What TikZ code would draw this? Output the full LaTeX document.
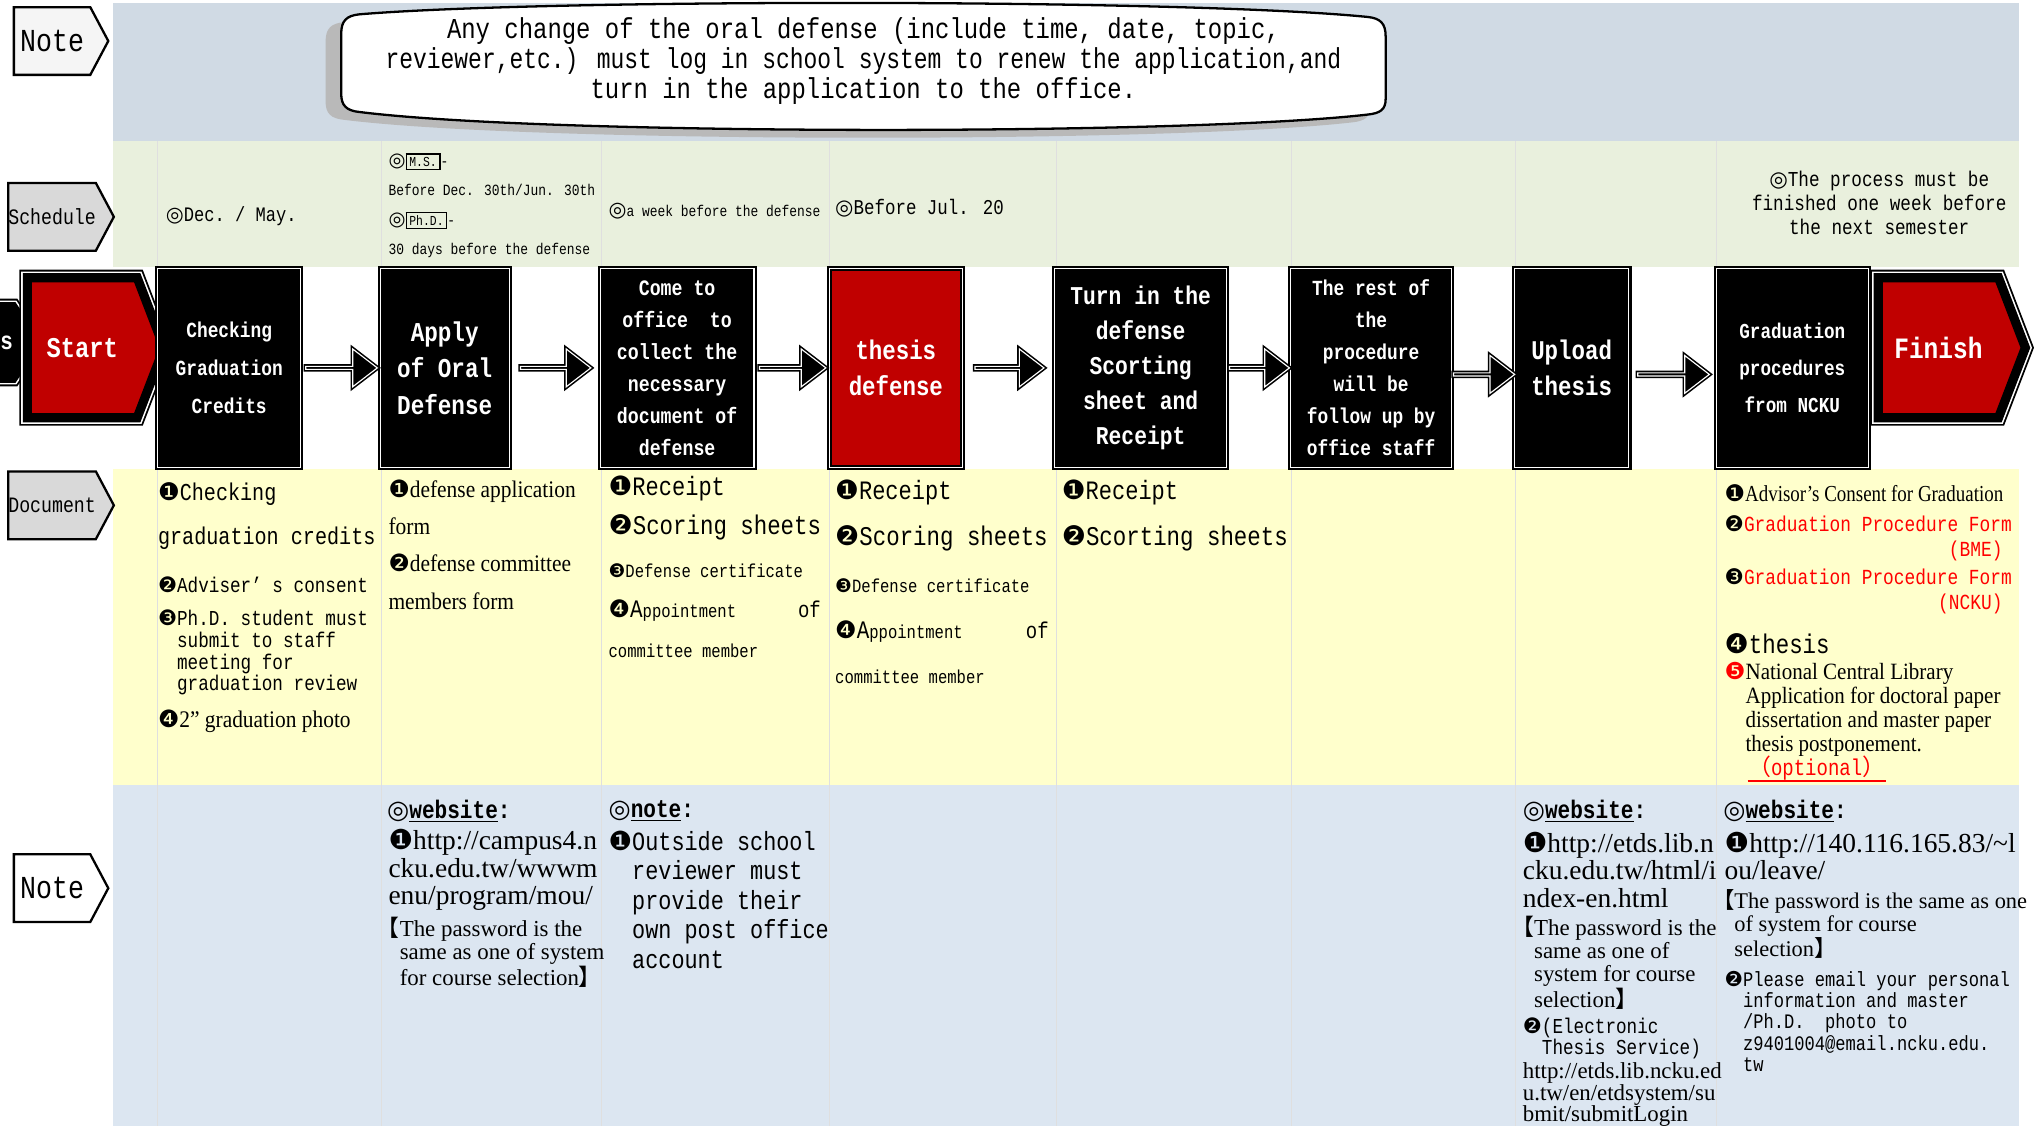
\documentclass[tikz,border=0pt]{standalone}
\usepackage{fontspec}
\usepackage{graphicx}
\usetikzlibrary{shapes,arrows,positioning,calc}
\setmainfont{Liberation Serif}
\newfontfamily\mono[FakeStretch=0.83]{Liberation Mono}
\newfontfamily\tnr{Liberation Serif}
\newfontfamily\tnrc[FakeStretch=0.9]{Liberation Serif}
\newfontfamily\dv{DejaVu Sans}
\newfontfamily\cjk{Noto Sans CJK SC}
\definecolor{notebg}{RGB}{208,218,228}
\definecolor{notebgb}{RGB}{220,230,241}
\definecolor{schedbg}{RGB}{233,240,221}
\definecolor{docbg}{RGB}{255,255,204}
\definecolor{boxred}{RGB}{192,0,0}
\definecolor{formred}{RGB}{255,0,0}
\newcommand{\fs}[2]{\fontsize{#1}{#2}\selectfont}
\newcommand{\cnum}[1]{{\dv #1}}
\newcommand{\hangitem}[2]{#1\begin{tabular}[t]{@{}l@{}}#2\end{tabular}}
\newcommand{\lbr}{\makebox[0.55em][r]{\cjk 【}}
\newcommand{\rbr}{{\cjk 】}}
\setlength{\fboxsep}{1pt}
\setlength{\fboxrule}{0.7pt}
\tikzset{
    lane/.style={signal, signal to=east, signal pointer angle=124, draw, line width=1pt, minimum width=1.45cm, minimum height=1.04cm, inner sep=0pt, font=\mono\fs{9.6}{11}},
    stepbox/.style={rectangle, draw=black, double=white, double distance=0.5pt, line width=0.9pt, outer sep=0pt, fill=black, text=white, minimum height=3.05cm, align=center, inner sep=0pt, font=\mono\bfseries},
    endbox/.style={signal, signal to=east, signal pointer angle=138, preaction={draw=black, line width=7pt}, preaction={draw=white, line width=5.4pt}, draw=black, line width=4pt, fill=boxred, text=white, minimum height=2.15cm, inner sep=0pt, font=\mono\bfseries\fs{12.5}{14}},
    fat/.style={single arrow, fill=black, draw=black, double=white, double distance=0.5pt, line width=0.7pt, minimum width=0.58cm, single arrow head extend=0.14cm, single arrow tip angle=75, inner sep=0pt},
    txt/.style={inner sep=0pt, anchor=west, align=left},
    divider/.style={gray!25, line width=0.5pt}
}

\begin{document}
\begin{tikzpicture}[x=0.02cm, y=-0.02cm, node distance=1cm]
    \useasboundingbox (0,0) rectangle (1568,865);
    \clip (0,0) rectangle (1568,865);

    % lanes
    \fill[notebg] (87,2) rectangle (1550,108);
    \fill[schedbg] (87,108) rectangle (1550,205);
    \fill[docbg] (87,360) rectangle (1550,603);
    \fill[notebgb] (87,603) rectangle (1550,865);
    \foreach \x in {121,293,462,637,811,992,1164,1318} {
        \draw[divider] (\x,108) -- (\x,205);
        \draw[divider] (\x,360) -- (\x,865);
    }

    \node[lane, fill=gray!8] (note1) at (40,31.5) {\fs{14}{16}Note};
    \node[lane, fill=gray!30] (sched) at (40,166.5) {Schedule};
    \node[lane, fill=gray!30] (doc) at (40,388) {Document};
    \node[lane, fill=white] (note2) at (40,682) {\fs{14}{16}Note};

    % speech box
    \fill[gray!55, shift={(-12,6)}] (262,26) .. controls (262,16) and (266,12) .. (276,11)
        .. controls (420,-1) and (910,-1) .. (1050,13) .. controls (1060,14) and (1064,18) .. (1064,28)
        -- (1064,76) .. controls (1064,84) and (1060,87) .. (1050,88)
        .. controls (910,104) and (420,104) .. (276,86) .. controls (266,85) and (262,81) .. (262,72) -- cycle;
    \draw[fill=white, line width=1pt] (262,26) .. controls (262,16) and (266,12) .. (276,11)
        .. controls (420,-1) and (910,-1) .. (1050,13) .. controls (1060,14) and (1064,18) .. (1064,28)
        -- (1064,76) .. controls (1064,84) and (1060,87) .. (1050,88)
        .. controls (910,104) and (420,104) .. (276,86) .. controls (266,85) and (262,81) .. (262,72) -- cycle;
    \node[inner sep=0pt, align=center, font=\mono\fs{12.6}{13.1}] (changes) at (663,47)
        {Any change of the oral defense (include time, date, topic,\\
         \scalebox{0.96}[1]{reviewer,etc.) must log in school system to renew the application,and}\\
         turn in the application to the office.};

    % schedule
    \node[txt, font=\mono\fs{9}{10}] (s1) at (127,166) {\cnum{◎}Dec.\ / May.};
    \node[txt, font=\mono\fs{6.8}{12.9}] (s2) at (298,158)
        {\cnum{\fs{8.5}{9}◎}\fbox{\fs{6}{7}M.S.}-\\Before Dec. 30th/Jun. 30th\\\cnum{\fs{8.5}{9}◎}\fbox{\fs{6}{7}Ph.D.}-\\30 days before the defense};
    \node[txt, font=\mono\fs{6.8}{8}] (s3) at (467,162) {\cnum{\fs{9}{9}◎}a week before the defense};
    \node[txt, font=\mono\fs{9.2}{10}] (s4) at (641,160) {\cnum{◎}Before Jul. 20};
    \node[inner sep=0pt, align=center, font=\mono\fs{9.3}{10.5}] (s8) at (1443,155.5)
        {\cnum{◎}The process must be\\finished one week before\\the next semester};

    % steps
    \node[endbox, fill=black, minimum width=2cm, minimum height=1.1cm, signal pointer angle=113, text width=1.8cm, align=right, font=\mono\bfseries\fs{11}{12}] (prev) at (-35,263) {s};
    \node[endbox, minimum width=2.1cm, anchor=west] (start) at (17.5,267) {Start};
    \node[stepbox, minimum width=2.2cm, font=\mono\bfseries\fs{9.4}{16.5}] (check) at (176,282.5) {Checking\\Graduation\\Credits};
    \node[stepbox, minimum width=1.98cm, right=1.22cm of check, font=\mono\bfseries\fs{11.9}{15.9}] (apply) {Apply\\of Oral\\Defense};
    \node[stepbox, minimum width=2.36cm, right=1.4cm of apply, font=\mono\bfseries\fs{9.6}{14}] (collect) {Come to\\office\ \ to\\collect the\\necessary\\document of\\defense};
    \node[stepbox, minimum width=2.04cm, right=1.16cm of collect, fill=boxred, font=\mono\bfseries\fs{11.8}{15.9}] (defense) {thesis\\defense};
    \node[stepbox, minimum width=2.64cm, right=1.42cm of defense, font=\mono\bfseries\fs{11.2}{15.2}] (turnin) {Turn in the\\defense\\Scorting\\sheet and\\Receipt};
    \node[stepbox, minimum width=2.48cm, right=0.98cm of turnin, font=\mono\bfseries\fs{9.4}{14}] (rest) {The rest of\\the\\procedure\\will be\\follow up by\\office staff};
    \node[stepbox, minimum width=1.76cm, right=0.96cm of rest, font=\mono\bfseries\fs{11.8}{15.9}] (upload) {Upload\\thesis};
    \node[stepbox, minimum width=2.34cm, right=1.34cm of upload, font=\mono\bfseries\fs{9.3}{16.2}] (gradproc) {Graduation\\procedures\\from NCKU};
    \node[endbox, minimum width=2.26cm, anchor=east, font=\mono\bfseries\fs{12.9}{14}] (finish) at (1559,267) {Finish};

    \foreach \a/\b/\len in {check/apply/1.1, apply/collect/1.08, collect/defense/1.02, defense/turnin/1.06, turnin/rest/0.92}
        \node[fat, minimum height=\len cm] (arr-\a) at ($(\a.east)!0.5!(\b.west)$) {};
    \foreach \a/\b/\len in {rest/upload/0.94, upload/gradproc/1.1}
        \node[fat, minimum height=\len cm] (arr-\a) at ($(\a.east)!0.5!(\b.west)+(0,5)$) {};

    % documents
    \node[txt, font=\mono\fs{10.6}{19.3}] (d1a) at (121,396) {\cnum{❶}Checking\\graduation credits};
    \node[txt, font=\mono\fs{9.3}{10}] (d1b) at (121,449) {\cnum{❷}Adviser’\ s consent};
    \node[txt, font=\mono\fs{9.3}{9.1}] (d1c) at (121,502) {\hangitem{\cnum{❸}}{Ph.D. student must\\submit to staff\\meeting for\\graduation review}};
    \node[txt, font=\tnrc\fs{10.4}{11}] (d1d) at (121,554) {\cnum{❹}2” graduation photo};

    \node[txt, font=\tnrc\fs{10.4}{16.5}] (d2a) at (298,389.5) {\cnum{❶}defense application\\form};
    \node[txt, font=\tnrc\fs{10.4}{16.5}] (d2b) at (298,446.5) {\cnum{❷}defense committee\\members form};

    \node[txt, font=\mono\fs{11.6}{12}] (d3a) at (467,375) {\cnum{❶}Receipt};
    \node[txt, font=\mono\fs{11.8}{12}] (d3b) at (467,405) {\cnum{❷}Scoring sheets};
    \node[txt, font=\mono\fs{8.2}{9}] (d3c) at (467,438) {\cnum{❸}Defense certificate};
    \node[txt, font=\mono\fs{8.2}{9}] (d3d) at (467,469) {\makebox[3.26cm][l]{\cnum{\fs{10.5}{11}❹}{\fs{11}{11}A}ppointment\hfill{\fs{10}{11}of}}};
    \node[txt, font=\mono\fs{8.2}{9}] (d3e) at (467,500) {committee member};

    \node[txt, font=\mono\fs{11.6}{12}] (d4a) at (641,378) {\cnum{❶}Receipt};
    \node[txt, font=\mono\fs{11.8}{12}] (d4b) at (641,413) {\cnum{❷}Scoring sheets};
    \node[txt, font=\mono\fs{8.2}{9}] (d4c) at (641,450) {\cnum{❸}Defense certificate};
    \node[txt, font=\mono\fs{8.2}{9}] (d4d) at (641,485) {\makebox[3.28cm][l]{\cnum{\fs{10.5}{11}❹}{\fs{11}{11}A}ppointment\hfill{\fs{10}{11}of}}};
    \node[txt, font=\mono\fs{8.2}{9}] (d4e) at (641,520) {committee member};

    \node[txt, font=\mono\fs{11.6}{12}] (d5a) at (815,378) {\cnum{❶}Receipt};
    \node[txt, font=\mono\fs{11.8}{12}] (d5b) at (815,413) {\cnum{❷}Scorting sheets};

    \node[txt, font=\tnrc\fs{10}{11}] (d8a) at (1324,379) {\cnum{❶}\scalebox{0.92}[1]{Advisor’s Consent for Graduation}};
    \node[txt, font=\mono\fs{9.4}{10}, text=formred] (d8b) at (1324,402) {\textcolor{black}{\cnum{❷}}Graduation Procedure Form};
    \node[inner sep=0pt, anchor=east, font=\mono\fs{9.4}{10}, text=formred] (d8c) at (1538,423) {(BME)};
    \node[txt, font=\mono\fs{9.4}{10}, text=formred] (d8d) at (1324,443) {\textcolor{black}{\cnum{❸}}Graduation Procedure Form};
    \node[inner sep=0pt, anchor=east, font=\mono\fs{9.4}{10}, text=formred] (d8e) at (1538,464) {(NCKU)};
    \node[txt, font=\mono\fs{11.8}{12}] (d8f) at (1324,494) {\cnum{❹}thesis};
    \node[txt, font=\tnrc\fs{10.2}{10.4}] (d8g) at (1324,545.5) {\hangitem{\textcolor{formred}{\cnum{❺}}}{National Central Library\\Application for doctoral paper\\dissertation and master paper\\thesis postponement.}};
    \node[txt, font=\mono\fs{10}{11}, text=formred] (d8h) at (1342,590) {{\cjk （}optional{\cjk ）}};
    \draw[formred, line width=1.1pt] (d8h.south west) -- (d8h.south east);

    % notes
    \node[txt, font=\mono\bfseries\fs{11.1}{12}] (w2) at (297,623) {\cnum{◎}\underline{website}:};
    \node[txt, font=\tnr\fs{12}{12}] (w2a) at (298,668) {\cnum{❶}http://campus4.n\\cku.edu.tw/wwwm\\enu/program/mou/};
    \node[txt, font=\tnr\fs{10}{9.7}] (w2b) at (297,733) {\hangitem{\lbr}{The password is the\\same as one of system\\for course selection\rbr}};

    \node[txt, font=\mono\bfseries\fs{11.1}{12}] (n3) at (467,623) {\cnum{◎}\underline{note}:};
    \node[txt, font=\mono\fs{11.5}{12.9}] (n3a) at (467,693.5) {\hangitem{\cnum{❶}}{Outside school\\reviewer must\\provide their\\own post office\\account}};

    \node[txt, font=\mono\bfseries\fs{11.1}{12}] (w7) at (1169,623) {\cnum{◎}\underline{website}:};
    \node[txt, font=\tnr\fs{12}{12}] (w7a) at (1169,668) {\cnum{❶}http://etds.lib.n\\cku.edu.tw/html/i\\ndex-en.html};
    \node[txt, font=\tnr\fs{10}{9.7}] (w7b) at (1168,741) {\hangitem{\lbr}{The password is the\\same as one of\\system for course\\selection\rbr}};
    \node[txt, font=\mono\fs{9.3}{9.2}] (w7c) at (1169,798) {\hangitem{\cnum{❷}}{(Electronic\\Thesis Service)}};
    \node[txt, font=\tnr\fs{10}{9.4}] (w7d) at (1169,840.5) {http://etds.lib.ncku.ed\\u.tw/en/etdsystem/su\\bmit/submitLogin};

    \node[txt, font=\mono\bfseries\fs{11.1}{12}] (w8) at (1323,623) {\cnum{◎}\underline{website}:};
    \node[txt, font=\tnr\fs{12}{12}] (w8a) at (1324,657.5) {\cnum{❶}http://140.116.165.83/\textasciitilde l\\ou/leave/};
    \node[txt, font=\tnr\fs{9.8}{9.7}] (w8b) at (1322,711.5) {\hangitem{\lbr}{The password is the same as one\\of system for course\\selection\rbr}};
    \node[txt, font=\mono\fs{9}{9.2}] (w8c) at (1324,786.5) {\hangitem{\cnum{❷}}{Please email your personal\\information and master\\/Ph.D.\ \ photo to\\z9401004@email.ncku.edu.\\tw}};
\end{tikzpicture}
\end{document}
